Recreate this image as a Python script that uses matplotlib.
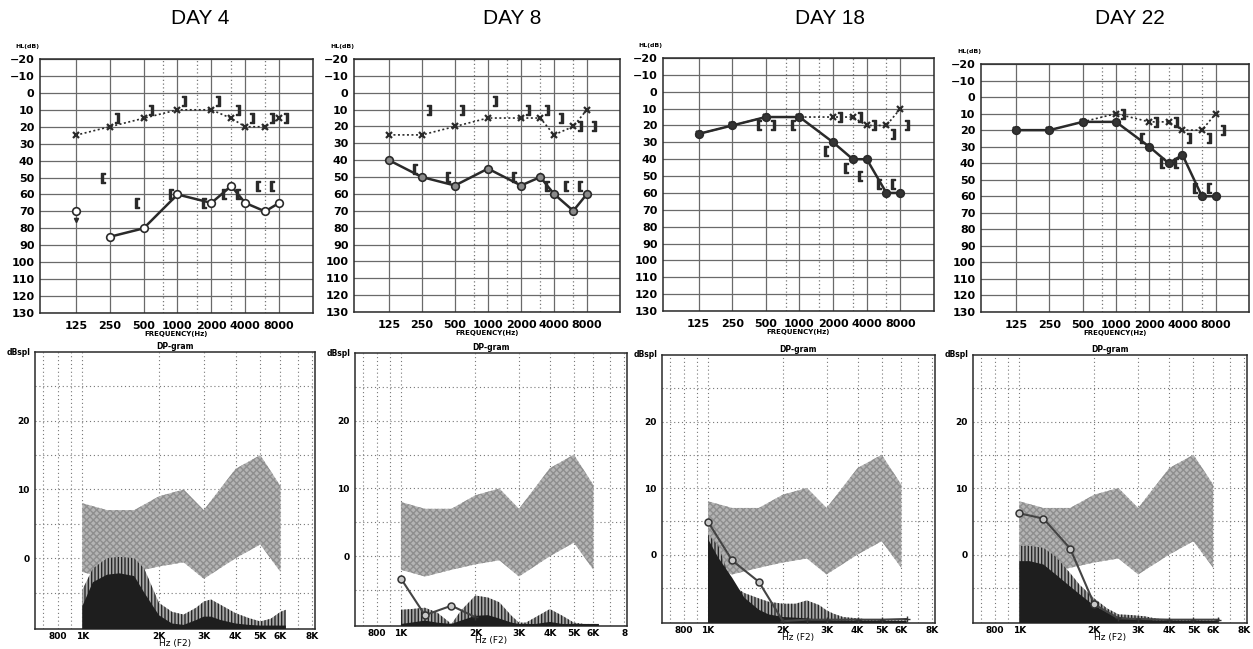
import matplotlib
matplotlib.use('Agg')
import matplotlib.pyplot as plt
from matplotlib.transforms import ScaledTranslation
import numpy as np

W, H = 1253, 649

days = ['DAY 4', 'DAY 8', 'DAY 18', 'DAY 22']

# audiogram data (dB HL)
aud_freqs = [125, 250, 500, 1000, 2000, 3000, 4000, 6000, 8000]
aud_ticks = [125, 250, 500, 1000, 2000, 4000, 8000]
aud_tick_labels = ['125', '250', '500', '1000', '2000', '4000', '8000']
aud_mid_freqs = [750, 1500, 3000, 6000]

d4_right_air = [np.nan, 85, 80, 60, 65, 55, 65, 70, 65]
d4_left_air = [25, 20, 15, 10, 10, 15, 20, 20, 15]
d4_extra_f = [125]
d4_extra_v = [70]
d4_lbone_f = [250, 500, 1000, 2000, 3000, 4000, 6000, 8000]
d4_lbone_v = [15, 10, 5, 5, 10, 15, 15, 15]
d4_rbone_f = [250, 500, 1000, 2000, 3000, 4000, 6000, 8000]
d4_rbone_v = [50, 65, 60, 65, 60, 60, 55, 55]

d8_right_air = [40, 50, 55, 45, 55, 50, 60, 70, 60]
d8_left_air = [25, 25, 20, 15, 15, 15, 25, 20, 10]
d8_lbone_f = [250, 500, 1000, 2000, 3000, 4000, 6000, 8000]
d8_lbone_v = [10, 10, 5, 10, 10, 15, 20, 20]
d8_rbone_f = [250, 500, 2000, 4000, 6000, 8000]
d8_rbone_v = [45, 50, 50, 55, 55, 55]

d18_right_air = [25, 20, 15, 15, 30, 40, 40, 60, 60]
d18_left_air = [25, 20, 15, 15, 15, 15, 20, 20, 10]
d18_lbone_f = [500, 2000, 3000, 4000, 6000, 8000]
d18_lbone_v = [20, 15, 15, 20, 25, 20]
d18_rbone_f = [500, 1000, 2000, 3000, 4000, 6000, 8000]
d18_rbone_v = [20, 20, 35, 45, 50, 55, 55]

d22_right_air = [20, 20, 15, 15, 30, 40, 35, 60, 60]
d22_left_air = [20, 20, 15, 10, 15, 15, 20, 20, 10]
d22_lbone_f = [1000, 2000, 3000, 4000, 6000, 8000]
d22_lbone_v = [10, 15, 15, 25, 25, 20]
d22_rbone_f = [2000, 3000, 4000, 6000, 8000]
d22_rbone_v = [25, 40, 40, 55, 55]

# DP-gram data (dB SPL)
norm_freqs = [1000, 1250, 1600, 2000, 2500, 3000, 4000, 5000, 6000]
norm_upper = [8, 7, 7, 9, 10, 7, 13, 15, 10.5]
norm_lower = [-2, -3, -2, -1.2, -0.6, -3, 0, 2, -2]

noise_freqs = [1000, 1100, 1250, 1400, 1600, 1750, 2000, 2250, 2500, 2800,
               3000, 3200, 3500, 4000, 4500, 5000, 5500, 6000, 6300]
d4_noise_2sd = [-4.6, -1.5, 0, 0.2, 0, -1.5, -6.5, -7.8, -8.2, -7.2,
                -6.3, -6, -6.8, -8, -8.7, -9.2, -8.8, -7.8, -7.5]
d4_noise_mean = [-7, -3.5, -2.4, -2.2, -2.6, -5, -8.3, -9.5, -9.7, -9,
                 -8.5, -8.5, -9, -9.5, -9.7, -9.8, -9.8, -9.8, -9.8]
d8_noise_2sd = [-7.9, -7.8, -7.6, -8.3, -10, -8, -5.8, -6.1, -6.8, -8.8,
                -9.8, -9.8, -9, -7.8, -8.8, -9.8, -10, -10, -10]
d8_noise_mean = [-10, -9.8, -9.5, -9.8, -10, -9.5, -8.8, -8.7, -9.2, -9.8,
                 -10, -10, -10, -9.7, -10, -10, -10, -10, -10]
d18_noise_2sd = [3, 1.3, -4.6, -5.8, -6.6, -7.1, -7.4, -7.4, -6.9, -7.6,
                 -8.4, -8.9, -9.4, -9.6, -9.8, -9.9, -9.9, -9.9, -9.9]
d18_noise_mean = [2.3, -0.5, -3.5, -6.5, -8.3, -9, -9.4, -9.5, -9.6, -9.8,
                  -9.8, -9.9, -9.9, -10, -10, -10, -10, -10, -10]
d22_noise_2sd = [1.3, 1.3, 1.0, -0.3, -2.8, -4.6, -6.6, -8.1, -9, -9.1,
                 -9.2, -9.3, -9.6, -9.9, -9.8, -9.8, -9.9, -9.9, -9.9]
d22_noise_mean = [-1, -1, -1.5, -3, -4.8, -6, -7.7, -8.7, -9.4, -9.6,
                  -9.7, -9.8, -9.9, -9.9, -10, -10, -10, -10, -10]

d8_dp_f = [1000, 1250, 1600, 2000]
d8_dp_v = [-3.3, -8.7, -7.3, -9.0]
d18_dp_f = [1000, 1250, 1600, 2000, 2500, 3000, 4000, 5000, 6300]
d18_dp_v = [4.9, -0.9, -4.1, -10, -9.8, -9.8, -9.8, -9.8, -9.7]
d22_dp_f = [1000, 1250, 1600, 2000, 2500, 3000, 4000, 5000, 6300]
d22_dp_v = [6.2, 5.4, 0.9, -7.5, -9.6, -9.7, -9.8, -9.8, -9.8]

dp_ticks = [800, 1000, 2000, 3000, 4000, 5000, 6000, 8000]
dp_tick_labels = ['800', '1K', '2K', '3K', '4K', '5K', '6K', '8K']
dp_tick_labels_d8 = ['800', '1K', '2K', '3K', '4K', '5K', '6K', '8']
dp_minor = [700, 900, 7000]

# pixel boxes (left, top, right, bottom)
top_boxes = [(40, 59, 313, 313), (354, 59, 620, 312), (663, 58, 934, 311), (981, 64, 1249, 312)]
bot_boxes = [(35, 352, 315, 629), (355, 353, 627, 626), (662, 355, 935, 623), (973, 355, 1247, 623)]
title_x = [200, 512, 830, 1130]
circle_face = ['white', '#8a8a8a', '#333333', '#333333']

INK = '#2a2a2a'


def add_box(fig, box):
    l, t, r, b = box
    return fig.add_axes([l / W, 1 - b / H, (r - l) / W, (b - t) / H])


def audiogram(ax, right_air, left_air, lbone_f, lbone_v, rbone_f, rbone_v, face):
    ax.set_xscale('log', base=2)
    ax.set_xlim(60, 16000)
    ax.set_ylim(130, -20)
    ax.set_xticks(aud_ticks)
    ax.set_xticklabels(aud_tick_labels)
    ax.set_xticks(aud_mid_freqs, minor=True)
    ax.set_xticklabels([], minor=True)
    ax.set_yticks(np.arange(-20, 131, 10))
    ax.grid(True, which='major', color='#6a6a6a', lw=0.9)
    ax.grid(True, which='minor', axis='x', color='#777777', lw=0.9, ls=(0, (1, 2)))
    ax.tick_params(which='both', length=0, labelsize=8, pad=4)
    ax.tick_params(axis='x', pad=6)
    for lab in ax.get_xticklabels() + ax.get_yticklabels():
        lab.set_fontweight('bold')
    for s in ax.spines.values():
        s.set_color(INK)
        s.set_linewidth(1.1)

    ax.plot(aud_freqs, left_air, ls=(0, (1.2, 1.5)), color=INK, lw=1.2,
            marker='x', ms=5, mew=1.6, zorder=3)
    ax.plot(aud_freqs, right_air, ls='-', color=INK, lw=1.8,
            marker='o', ms=5.5, mfc=face, mec=INK, mew=1.2, zorder=4)

    fig = ax.figure
    left_shift = ax.transData + ScaledTranslation(-5 / 72, 0, fig.dpi_scale_trans)
    right_shift = ax.transData + ScaledTranslation(5 / 72, 0, fig.dpi_scale_trans)
    ax.plot(rbone_f, rbone_v, ls='none', marker='$\\mathbf{[}$', ms=7,
            color=INK, transform=left_shift, zorder=5)
    ax.plot(lbone_f, lbone_v, ls='none', marker='$\\mathbf{]}$', ms=7,
            color=INK, transform=right_shift, zorder=5)

    ax.set_xlabel('FREQUENCY(Hz)', fontsize=5, fontweight='bold', labelpad=0)
    ax.text(-0.09, 1.05, 'HL(dB)', transform=ax.transAxes, fontsize=4.5,
            fontweight='bold', ha='left', va='center')


def dpgram(ax, noise_2sd, noise_mean, dp_f, dp_v, labels):
    ax.set_xscale('log')
    ax.set_xlim(652, 8200)
    ax.set_ylim(-10.3, 30)
    ax.set_xticks(dp_ticks)
    ax.set_xticklabels(labels)
    ax.set_xticks(dp_minor, minor=True)
    ax.set_xticklabels([], minor=True)
    ax.set_yticks([0, 10, 20])
    ax.set_yticks([-5, 5, 15, 25], minor=True)
    ax.grid(True, which='both', color='#777777', lw=0.8, ls=(0, (1, 2.5)))
    ax.tick_params(which='both', length=0, labelsize=6.5, pad=2)
    ax.tick_params(axis='y', pad=4)
    for lab in ax.get_xticklabels() + ax.get_yticklabels():
        lab.set_fontweight('bold')
    for s in ax.spines.values():
        s.set_color(INK)
        s.set_linewidth(1.1)
    ax.set_axisbelow(True)

    ax.fill_between(norm_freqs, norm_lower, norm_upper, facecolor='#b4b4b4',
                    edgecolor='#8e8e8e', hatch='xxxxx', lw=0, zorder=1)
    ax.fill_between(noise_freqs, -10.3, noise_2sd, facecolor='#a8a8a8',
                    edgecolor='#262626', hatch='|||||', lw=0, zorder=2)
    ax.fill_between(noise_freqs, -10.3, noise_mean, facecolor='#1e1e1e',
                    lw=0, zorder=3)

    if dp_f:
        ax.plot(dp_f, dp_v, color='#444444', lw=1.5, zorder=4)
        dp_f = np.array(dp_f)
        dp_v = np.array(dp_v)
        seen = dp_v > -9
        ax.plot(dp_f[seen], dp_v[seen], ls='none', marker='o', ms=5,
                mfc='#c8c8c8', mec='#333333', mew=1.1, zorder=5)
        ax.plot(dp_f[~seen], dp_v[~seen], ls='none', marker='+', ms=5,
                color='#333333', zorder=5)

    ax.set_title('DP-gram', fontsize=5.5, fontweight='bold', pad=2)
    ax.set_xlabel('Hz (F2)', fontsize=6.5, labelpad=-1)
    ax.text(-0.015, 1.0, 'dBspl', transform=ax.transAxes, fontsize=5.5,
            fontweight='bold', ha='right', va='center')


def main():
    fig = plt.figure(figsize=(W / 100, H / 100), dpi=100)
    plt.rcParams['hatch.linewidth'] = 1.0

    aud_sets = [
        (d4_right_air, d4_left_air, d4_lbone_f, d4_lbone_v, d4_rbone_f, d4_rbone_v),
        (d8_right_air, d8_left_air, d8_lbone_f, d8_lbone_v, d8_rbone_f, d8_rbone_v),
        (d18_right_air, d18_left_air, d18_lbone_f, d18_lbone_v, d18_rbone_f, d18_rbone_v),
        (d22_right_air, d22_left_air, d22_lbone_f, d22_lbone_v, d22_rbone_f, d22_rbone_v),
    ]
    dp_sets = [
        (d4_noise_2sd, d4_noise_mean, [], [], dp_tick_labels),
        (d8_noise_2sd, d8_noise_mean, d8_dp_f, d8_dp_v, dp_tick_labels_d8),
        (d18_noise_2sd, d18_noise_mean, d18_dp_f, d18_dp_v, dp_tick_labels),
        (d22_noise_2sd, d22_noise_mean, d22_dp_f, d22_dp_v, dp_tick_labels),
    ]

    for i in range(4):
        ax = add_box(fig, top_boxes[i])
        audiogram(ax, *aud_sets[i], circle_face[i])
        if i == 0:
            # no-response mark at 125 Hz
            ax.plot(d4_extra_f, d4_extra_v, ls='none', marker='o', ms=5.5,
                    mfc='white', mec=INK, mew=1.2, zorder=4)
            ax.plot(d4_extra_f, [v + 5 for v in d4_extra_v], ls='none',
                    marker='v', ms=3, color=INK, zorder=4)
        fig.text(title_x[i] / W, 1 - 18 / H, days[i], fontsize=15,
                 family='Liberation Sans', ha='center', va='center')

        bx = add_box(fig, bot_boxes[i])
        dpgram(bx, *dp_sets[i])

    fig.savefig('out.png', dpi=100)


if __name__ == '__main__':
    main()
